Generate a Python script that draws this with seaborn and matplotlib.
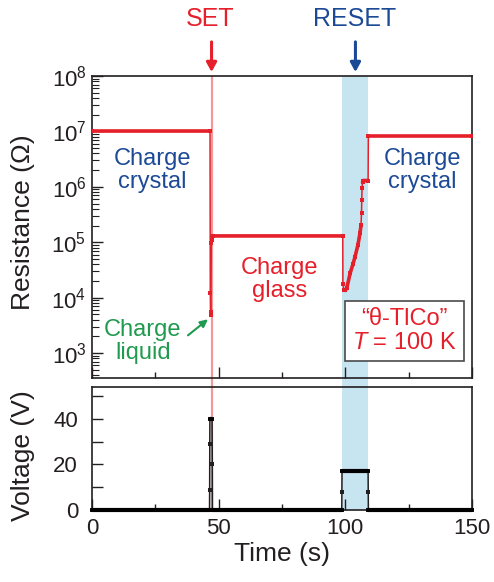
import numpy as np
import matplotlib
matplotlib.use("Agg")
import matplotlib.pyplot as plt
import matplotlib.transforms as mtransforms
from matplotlib.ticker import LogLocator, MultipleLocator, NullFormatter
import seaborn as sns

# Resistance trace (s, Ohm)
time_R = [0, 46.6, 46.7, 46.8, 46.9, 47.1, 47.3, 47.6, 99.0, 99.05, 99.4, 100.0,
          100.6, 101.9, 103.0, 103.8, 105.0, 105.8, 106.2, 106.4, 106.5, 106.6,
          106.8, 107.0, 109.0, 109.1, 150]
res = [1.0e7, 1.0e7, 1.2e4, 5.5e3, 4.8e3, 9.5e4, 1.1e5, 1.3e5, 1.3e5, 1.8e4, 1.4e4, 1.35e4,
       1.5e4, 2.75e4, 4.0e4, 5.4e4, 9.0e4, 1.46e5, 2.04e5, 3.4e5, 5.8e5, 9.6e5,
       1.2e6, 1.3e6, 1.3e6, 8.3e6, 8.3e6]
# index ranges drawn thick (dense sampling in the original)
res_plateaus = [(0, 2), (6, 9), (10, 19), (22, 25), (25, 27)]

# Voltage trace (s, V)
time_V = [0, 46.4, 46.45, 46.5, 46.55, 47.4, 47.5, 47.55, 98.6, 98.65, 98.7, 109.0,
          109.05, 109.1, 150]
volt = [0, 0, 9, 29, 40, 40, 20, 0, 0, 8, 17, 17, 8, 0, 0]
volt_plateaus = [(0, 2), (4, 6), (7, 9), (10, 12), (13, 15)]

set_time = 47.2
reset_span = (98.6, 109.1)

red = "#e5202a"
blue = "#1d4a96"
green = "#1f9a4e"
band = "#c7e4f1"
setline = "#f09a9a"
dark = "#231f20"

sns.set_style("ticks")
plt.rcParams["font.family"] = ["Liberation Sans", "DejaVu Sans"]
plt.rcParams["mathtext.fontset"] = "custom"
plt.rcParams["mathtext.rm"] = "Liberation Sans"
plt.rcParams["mathtext.it"] = "Liberation Sans:italic"
plt.rcParams["axes.edgecolor"] = dark
plt.rcParams["axes.linewidth"] = 1.2

fig = plt.figure(figsize=(4.94, 5.82), dpi=100)
ax1 = fig.add_axes([0.1862, 0.3505, 0.7692, 0.5189])
ax2 = fig.add_axes([0.1862, 0.1237, 0.7692, 0.2113])

for ax in (ax1, ax2):
    ax.axvspan(*reset_span, color=band, lw=0, zorder=0)
    ax.axvline(set_time, color=setline, lw=1.6, zorder=1)
    ax.set_xlim(0, 150)
    ax.xaxis.set_major_locator(MultipleLocator(50))
    ax.xaxis.set_minor_locator(MultipleLocator(25))
    ax.tick_params(axis="both", which="both", direction="in", color=dark,
                   top=False, right=False)
    ax.tick_params(axis="x", which="major", length=8, width=1)
    ax.tick_params(axis="x", which="minor", length=4, width=1)
    for s in ax.spines.values():
        s.set_visible(True)

# band and SET line through the gap between panels
ax1.axvspan(*reset_span, ymin=-0.04, ymax=0, color=band, lw=0, zorder=0, clip_on=False)
ax1.axvline(set_time, ymin=-0.04, ymax=0, color=setline, lw=1.6, zorder=1, clip_on=False)

# resistance
sns.lineplot(x=time_R, y=res, ax=ax1, sort=False, estimator=None, color=red,
             lw=1.1, marker="s", markersize=3, markeredgewidth=0, zorder=3)
for a, b in res_plateaus:
    sns.lineplot(x=time_R[a:b], y=res[a:b], ax=ax1, sort=False, estimator=None,
                 color=red, lw=2.6, zorder=3)
ax1.set_yscale("log")
ax1.set_ylim(10 ** 2.55, 1e8)
ax1.yaxis.set_major_locator(LogLocator(base=10, numticks=12))
ax1.yaxis.set_minor_locator(LogLocator(base=10, subs=np.arange(2, 10), numticks=12))
ax1.yaxis.set_minor_formatter(NullFormatter())
ax1.tick_params(axis="y", which="major", length=8, width=1, labelsize=16, pad=4)
ax1.tick_params(axis="y", which="minor", length=5, width=0.8)
ax1.tick_params(axis="x", labelbottom=False)
ax1.set_ylabel("Resistance (Ω)", fontsize=19, color=dark)
ax1.yaxis.set_label_coords(-0.15, 0.517)

# voltage
sns.lineplot(x=time_V, y=volt, ax=ax2, sort=False, estimator=None, color=dark,
             lw=1.1, marker="s", markersize=3, markeredgewidth=0, zorder=3, clip_on=False)
for a, b in volt_plateaus:
    sns.lineplot(x=time_V[a:b], y=volt[a:b], ax=ax2, sort=False, estimator=None,
                 color="black", lw=3, zorder=3, clip_on=False)
ax2.set_ylim(0, 54)
ax2.set_yticks([0, 20, 40])
ax2.yaxis.set_minor_locator(MultipleLocator(10))
ax2.tick_params(axis="y", which="both", length=8, width=1, labelsize=16, pad=10)
ax2.tick_params(axis="x", labelsize=16, pad=6)
ax2.set_xticks([0, 50, 100, 150])
ax2.set_ylabel("Voltage (V)", fontsize=19, color=dark)
ax2.yaxis.set_label_coords(-0.15, 0.44)
ax2.set_xlabel("Time (s)", fontsize=19, color=dark, labelpad=2)
for t in ax1.get_yticklabels() + ax2.get_yticklabels() + ax2.get_xticklabels():
    t.set_color(dark)

# annotations
ax1.text(23.7, 10 ** 6.29, "Charge\ncrystal", color=blue, fontsize=17,
         ha="center", va="center", linespacing=1.05)
ax1.text(130.3, 10 ** 6.29, "Charge\ncrystal", color=blue, fontsize=17,
         ha="center", va="center", linespacing=1.05)
ax1.text(74.2, 10 ** 4.33, "Charge\nglass", color=red, fontsize=17,
         ha="center", va="center", linespacing=1.05)
ax1.text(20.1, 10 ** 3.21, "Charge\nliquid", color=green, fontsize=17,
         ha="center", va="center", linespacing=1.05)
ax1.annotate("", xy=(45.8, 10 ** 3.61), xytext=(37.9, 10 ** 3.32),
             arrowprops=dict(arrowstyle="-|>,head_length=0.45,head_width=0.22",
                             color=green, lw=1.5, shrinkA=0, shrinkB=0))
ax1.text(123.2, 10 ** 3.40, "“θ-TlCo”\n$T$ = 100 K", color=red, fontsize=17,
         ha="center", va="center", linespacing=1.15,
         bbox=dict(boxstyle="square,pad=0.3", fc="white", ec="#4a4a4a", lw=1.2))

trans = mtransforms.blended_transform_factory(ax1.transData, ax1.transAxes)
for x, label, c in [(set_time, "SET", red), (104.0, "RESET", blue)]:
    ax1.annotate("", xy=(x, 1.013), xycoords=trans, xytext=(x, 1.113), textcoords=trans,
                 arrowprops=dict(arrowstyle="-|>,head_length=0.55,head_width=0.3",
                                 color=c, lw=2.2, shrinkA=0, shrinkB=0), annotation_clip=False)
    ax1.text(x - 0.5, 1.19, label, transform=trans, color=c, fontsize=18,
             ha="center", va="center")

fig.savefig("out.png", dpi=100)
